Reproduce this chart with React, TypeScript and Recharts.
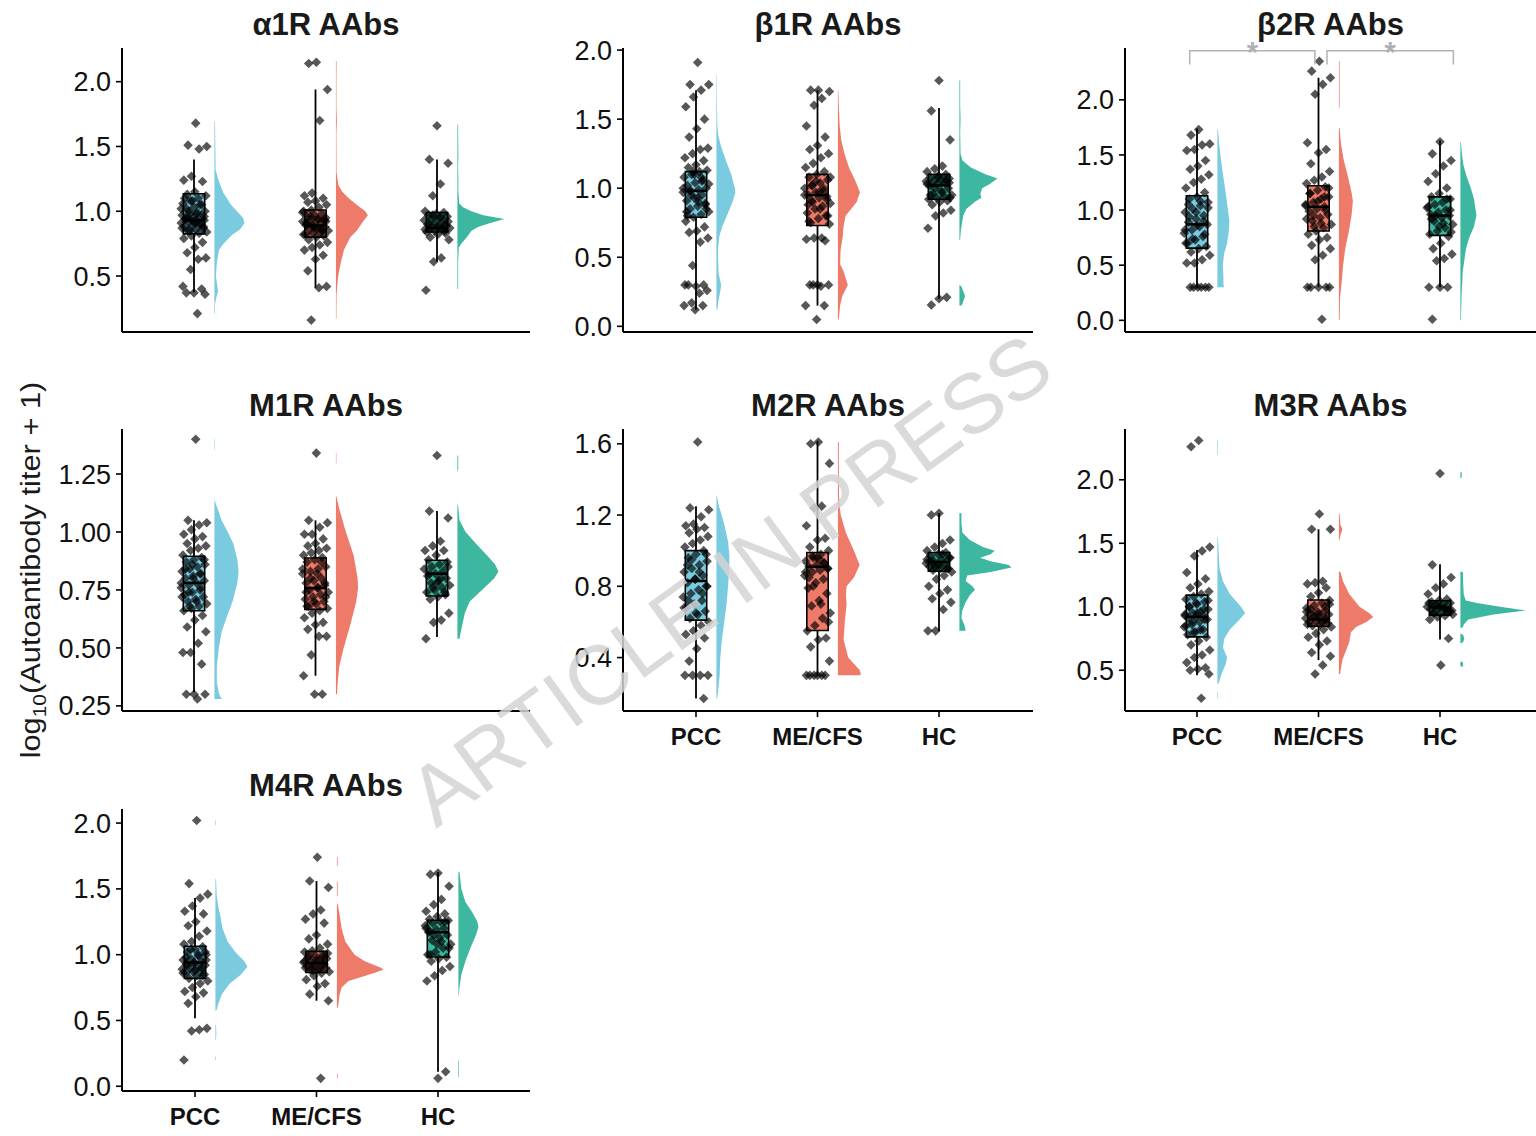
import React from 'react';
import { ComposedChart, XAxis, YAxis, Scatter } from 'recharts';

const FONT = 'Liberation Sans, Arial, Helvetica, sans-serif';
const GROUPS = ['PCC', 'ME/CFS', 'HC'];
const COLORS = ['#7ACBE0', '#EE7A69', '#3EB7A0'];

// ---------- α1R ----------
const a1rPcc = [1.68, 1.51, 1.50, 1.48, 1.27, 1.24, 1.23, 1.15, 1.13, 1.12, 1.10, 1.08, 1.06, 1.05, 1.03, 1.02, 1.00, 0.99, 0.98, 0.97, 0.96, 0.95, 0.94, 0.93, 0.93, 0.92, 0.91, 0.90, 0.89, 0.88, 0.87, 0.86, 0.85, 0.84, 0.83, 0.81, 0.79, 0.76, 0.72, 0.68, 0.64, 0.63, 0.55, 0.42, 0.40, 0.37, 0.37, 0.36, 0.21, 0.85, 0.87, 0.90, 0.92, 0.94, 0.96, 0.98, 1.00, 1.02, 1.05, 1.08, 1.10, 0.88, 0.91, 0.95];
const a1rMe = [2.15, 2.14, 1.94, 1.70, 1.14, 1.12, 1.10, 1.08, 1.07, 1.05, 1.03, 1.01, 1.00, 0.98, 0.97, 0.96, 0.95, 0.94, 0.93, 0.92, 0.91, 0.90, 0.89, 0.88, 0.87, 0.86, 0.85, 0.84, 0.83, 0.82, 0.81, 0.80, 0.78, 0.76, 0.74, 0.72, 0.70, 0.66, 0.63, 0.54, 0.42, 0.41, 0.16, 0.82, 0.85, 0.87, 0.90, 0.92, 0.94, 0.96, 0.99, 0.86, 0.88, 0.91, 0.93];
const a1rHc = [1.66, 1.40, 1.37, 1.21, 1.12, 1.00, 0.99, 0.98, 0.97, 0.96, 0.95, 0.94, 0.93, 0.92, 0.91, 0.90, 0.89, 0.88, 0.87, 0.87, 0.86, 0.85, 0.84, 0.83, 0.82, 0.80, 0.78, 0.64, 0.61, 0.39, 0.85, 0.88, 0.90, 0.92, 0.95, 0.97, 0.86, 0.89];
const a1rBox = [[0.375, 0.825, 0.93, 1.135, 1.40], [0.41, 0.80, 0.89, 1.01, 1.94], [0.61, 0.84, 0.87, 0.99, 1.40]];
const a1rVioPcc = [[1.69, 0.02], [1.5, 0.03], [1.32, 0.04], [1.25, 0.12], [1.15, 0.28], [1.05, 0.55], [1.0, 0.75], [0.95, 0.95], [0.91, 1.0], [0.86, 0.85], [0.82, 0.6], [0.75, 0.3], [0.7, 0.15], [0.6, 0.08], [0.5, 0.05], [0.42, 0.1], [0.38, 0.12], [0.33, 0.06], [0.28, 0.02], [0.21, 0.02]];
const a1rVioMe = [[2.16, 0.02], [2.0, 0.015], [1.8, 0.015], [1.7, 0.03], [1.6, 0.015], [1.3, 0.02], [1.2, 0.08], [1.15, 0.2], [1.1, 0.4], [1.05, 0.65], [1.0, 0.92], [0.97, 1.0], [0.92, 0.85], [0.85, 0.65], [0.8, 0.45], [0.7, 0.25], [0.6, 0.15], [0.5, 0.07], [0.42, 0.04], [0.35, 0.02], [0.17, 0.015]];
const a1rVioHc = [[1.67, 0.015], [1.6, 0.015], [1.42, 0.02], [1.35, 0.015], [1.25, 0.02], [1.15, 0.02], [1.06, 0.04], [1.03, 0.12], [1.0, 0.3], [0.97, 0.55], [0.94, 1.0], [0.91, 0.7], [0.88, 0.45], [0.85, 0.3], [0.8, 0.2], [0.75, 0.08], [0.72, 0.03], [0.65, 0.02], [0.6, 0.015], [0.45, 0.015], [0.4, 0.015]];
const a1rPeak = [0.64, 0.68, 1.0];
const a1rDomain = [0.068, 2.26];
const a1rTicks = [0.5, 1.0, 1.5, 2.0];

// ---------- β1R ----------
const b1rPcc = [1.91, 1.75, 1.75, 1.71, 1.66, 1.59, 1.50, 1.43, 1.37, 1.29, 1.28, 1.25, 1.22, 1.20, 1.17, 1.15, 1.13, 1.12, 1.10, 1.08, 1.06, 1.04, 1.02, 1.00, 0.99, 0.98, 0.97, 0.95, 0.93, 0.91, 0.89, 0.87, 0.85, 0.83, 0.81, 0.79, 0.76, 0.72, 0.69, 0.68, 0.64, 0.61, 0.44, 0.30, 0.30, 0.29, 0.30, 0.26, 0.24, 0.17, 0.15, 0.15, 0.12, 0.80, 0.85, 0.90, 0.95, 1.00, 1.05, 1.10, 0.83, 0.88, 0.93, 0.98, 1.03, 1.08, 1.12];
const b1rMe = [1.71, 1.71, 1.70, 1.65, 1.60, 1.45, 1.37, 1.31, 1.28, 1.25, 1.22, 1.18, 1.15, 1.12, 1.10, 1.08, 1.06, 1.04, 1.02, 1.00, 0.98, 0.97, 0.95, 0.94, 0.93, 0.91, 0.89, 0.87, 0.85, 0.82, 0.80, 0.78, 0.75, 0.74, 0.64, 0.64, 0.63, 0.62, 0.30, 0.30, 0.30, 0.29, 0.30, 0.15, 0.15, 0.05, 0.76, 0.80, 0.85, 0.90, 0.95, 1.00, 1.05, 0.88, 0.92, 0.97, 1.02, 1.08];
const b1rHc = [1.78, 1.56, 1.35, 1.16, 1.14, 1.12, 1.10, 1.09, 1.08, 1.07, 1.06, 1.05, 1.05, 1.04, 1.03, 1.02, 1.00, 0.98, 0.96, 0.95, 0.94, 0.93, 0.92, 0.91, 0.90, 0.88, 0.84, 0.82, 0.80, 0.71, 0.21, 0.20, 0.155, 0.93, 0.97, 1.00, 1.03, 1.06, 1.08, 0.95, 1.04];
const b1rBox = [[0.12, 0.79, 0.98, 1.12, 1.71], [0.15, 0.73, 0.95, 1.10, 1.71], [0.20, 0.92, 1.02, 1.10, 1.58]];
const b1rVioPcc = [[1.82, 0.02], [1.6, 0.03], [1.45, 0.05], [1.38, 0.1], [1.3, 0.25], [1.2, 0.5], [1.1, 0.78], [1.0, 0.97], [0.97, 1.0], [0.9, 0.85], [0.8, 0.55], [0.72, 0.3], [0.65, 0.15], [0.55, 0.08], [0.45, 0.1], [0.38, 0.12], [0.3, 0.25], [0.25, 0.2], [0.18, 0.1], [0.12, 0.05]];
const b1rVioMe = [[1.71, 0.02], [1.6, 0.04], [1.45, 0.08], [1.35, 0.15], [1.25, 0.3], [1.15, 0.5], [1.05, 0.8], [0.97, 1.0], [0.9, 0.85], [0.85, 0.6], [0.8, 0.35], [0.72, 0.25], [0.65, 0.22], [0.55, 0.12], [0.45, 0.1], [0.4, 0.25], [0.3, 0.45], [0.22, 0.2], [0.15, 0.1], [0.05, 0.04]];
const b1rVioHc = [[1.78, 0.02], [1.6, 0.02], [1.5, 0.03], [1.4, 0.02], [1.25, 0.03], [1.2, 0.08], [1.15, 0.3], [1.1, 0.7], [1.07, 1.0], [1.03, 0.8], [1.0, 0.6], [0.96, 0.55], [0.93, 0.58], [0.9, 0.4], [0.85, 0.18], [0.8, 0.1], [0.7, 0.04], [0.63, 0.02], [0.62, 0], [0.3, 0], [0.29, 0.05], [0.22, 0.15], [0.18, 0.1], [0.15, 0.06]];
const b1rPeak = [0.5, 0.58, 1.0];
const b1rDomain = [-0.041, 2.015];
const b1rTicks = [0.0, 0.5, 1.0, 1.5, 2.0];

// ---------- β2R ----------
const b2rPcc = [1.73, 1.68, 1.60, 1.59, 1.55, 1.54, 1.45, 1.40, 1.37, 1.32, 1.28, 1.25, 1.20, 1.16, 1.12, 1.10, 1.07, 1.04, 1.01, 0.98, 0.95, 0.92, 0.89, 0.87, 0.85, 0.82, 0.79, 0.76, 0.73, 0.70, 0.67, 0.65, 0.62, 0.59, 0.55, 0.52, 0.52, 0.30, 0.30, 0.30, 0.30, 0.30, 0.30, 0.70, 0.78, 0.86, 0.94, 1.02, 1.08, 0.74, 0.82, 0.90, 0.98, 1.05];
const b2rMe = [2.35, 2.26, 2.20, 2.14, 2.05, 1.61, 1.55, 1.52, 1.42, 1.35, 1.30, 1.27, 1.24, 1.21, 1.18, 1.15, 1.12, 1.10, 1.07, 1.05, 1.03, 1.01, 0.99, 0.96, 0.93, 0.90, 0.87, 0.84, 0.81, 0.78, 0.75, 0.73, 0.68, 0.65, 0.59, 0.55, 0.30, 0.30, 0.30, 0.30, 0.30, 0.01, 0.85, 0.92, 1.00, 1.08, 1.15, 1.20, 0.88, 0.95, 1.04, 1.12];
const b2rHc = [1.62, 1.51, 1.45, 1.40, 1.33, 1.26, 1.20, 1.15, 1.12, 1.10, 1.07, 1.05, 1.02, 1.00, 0.98, 0.96, 0.95, 0.93, 0.90, 0.87, 0.84, 0.81, 0.78, 0.76, 0.70, 0.65, 0.60, 0.56, 0.54, 0.30, 0.30, 0.30, 0.01, 0.80, 0.88, 0.95, 1.03, 1.10, 0.85, 0.92, 1.00];
const b2rBox = [[0.30, 0.655, 0.87, 1.13, 1.74], [0.30, 0.81, 1.03, 1.22, 2.20], [0.30, 0.77, 0.95, 1.12, 1.63]];
const b2rVioPcc = [[1.73, 0.05], [1.6, 0.15], [1.45, 0.3], [1.3, 0.5], [1.15, 0.7], [1.0, 0.88], [0.9, 1.0], [0.8, 0.95], [0.7, 0.8], [0.6, 0.55], [0.5, 0.45], [0.4, 0.5], [0.33, 0.5], [0.3, 0.55]];
const b2rVioMe = [[2.35, 0.05], [2.0, 0.05], [1.93, 0.04], [1.92, 0], [1.75, 0], [1.74, 0.05], [1.6, 0.15], [1.45, 0.35], [1.3, 0.65], [1.15, 0.92], [1.08, 1.0], [0.95, 0.9], [0.8, 0.7], [0.65, 0.45], [0.5, 0.3], [0.35, 0.2], [0.2, 0.08], [0.0, 0.05]];
const b2rVioHc = [[1.62, 0.03], [1.5, 0.1], [1.4, 0.2], [1.3, 0.4], [1.2, 0.65], [1.1, 0.85], [0.95, 1.0], [0.85, 0.85], [0.75, 0.55], [0.65, 0.35], [0.55, 0.25], [0.45, 0.15], [0.35, 0.12], [0.25, 0.08], [0.1, 0.05], [0.0, 0.04]];
const b2rPeak = [0.75, 0.875, 1.0];
const b2rDomain = [-0.106, 2.47];
const b2rTicks = [0.0, 0.5, 1.0, 1.5, 2.0];
const b2rBracketSpans = [[0.94, 1.97], [2.07, 3.11]];
const b2rBracketY = [2.32, 2.445];
const b2rBracketLabels = ['*', '*'];

// ---------- M1R ----------
const m1rPcc = [1.40, 1.05, 1.04, 1.03, 1.01, 0.99, 0.98, 0.97, 0.95, 0.94, 0.93, 0.92, 0.90, 0.89, 0.88, 0.87, 0.86, 0.85, 0.84, 0.83, 0.82, 0.81, 0.80, 0.79, 0.78, 0.77, 0.76, 0.75, 0.74, 0.73, 0.72, 0.71, 0.70, 0.69, 0.68, 0.67, 0.66, 0.64, 0.62, 0.59, 0.57, 0.52, 0.48, 0.48, 0.43, 0.30, 0.30, 0.30, 0.28, 0.68, 0.72, 0.76, 0.80, 0.84, 0.88, 0.70, 0.74, 0.78, 0.82, 0.86];
const m1rMe = [1.34, 1.05, 1.04, 1.02, 0.99, 0.99, 0.97, 0.95, 0.94, 0.93, 0.92, 0.91, 0.90, 0.89, 0.88, 0.87, 0.85, 0.84, 0.83, 0.82, 0.80, 0.79, 0.78, 0.77, 0.76, 0.75, 0.74, 0.73, 0.72, 0.71, 0.70, 0.69, 0.68, 0.67, 0.66, 0.65, 0.63, 0.61, 0.60, 0.58, 0.55, 0.55, 0.47, 0.38, 0.30, 0.30, 0.68, 0.72, 0.76, 0.80, 0.84, 0.87, 0.70, 0.74, 0.78, 0.82];
const m1rHc = [1.33, 1.09, 1.06, 0.96, 0.94, 0.92, 0.92, 0.90, 0.88, 0.87, 0.86, 0.85, 0.84, 0.83, 0.82, 0.81, 0.80, 0.79, 0.78, 0.77, 0.76, 0.75, 0.74, 0.73, 0.72, 0.71, 0.65, 0.62, 0.61, 0.54, 0.74, 0.78, 0.82, 0.85, 0.80, 0.76];
const m1rBox = [[0.31, 0.66, 0.78, 0.895, 1.05], [0.38, 0.666, 0.758, 0.888, 1.05], [0.547, 0.724, 0.82, 0.878, 1.09]];
const m1rVioPcc = [[1.40, 0.02], [1.36, 0.02], [1.35, 0], [1.14, 0], [1.13, 0.03], [1.05, 0.3], [1.0, 0.55], [0.95, 0.78], [0.88, 0.95], [0.83, 1.0], [0.78, 0.95], [0.7, 0.75], [0.63, 0.5], [0.57, 0.3], [0.5, 0.18], [0.42, 0.1], [0.35, 0.1], [0.3, 0.2], [0.28, 0.3]];
const m1rVioMe = [[1.34, 0.02], [1.3, 0.02], [1.29, 0], [1.16, 0], [1.15, 0.03], [1.1, 0.15], [1.0, 0.45], [0.9, 0.8], [0.8, 0.98], [0.76, 1.0], [0.7, 0.92], [0.6, 0.65], [0.5, 0.35], [0.42, 0.15], [0.35, 0.08], [0.3, 0.05]];
const m1rVioHc = [[1.33, 0.02], [1.27, 0.02], [1.26, 0], [1.12, 0], [1.11, 0.02], [1.05, 0.05], [1.0, 0.2], [0.95, 0.45], [0.9, 0.72], [0.86, 0.92], [0.83, 1.0], [0.8, 0.9], [0.75, 0.6], [0.7, 0.3], [0.65, 0.18], [0.6, 0.12], [0.55, 0.06], [0.54, 0.05]];
const m1rPeak = [0.59, 0.54, 1.0];
const m1rDomain = [0.228, 1.444];
const m1rTicks = [0.25, 0.5, 0.75, 1.0, 1.25];

// ---------- M2R ----------
const m2rPcc = [1.61, 1.24, 1.23, 1.19, 1.15, 1.14, 1.13, 1.12, 1.10, 1.08, 1.06, 1.04, 1.02, 1.00, 0.98, 0.96, 0.94, 0.92, 0.90, 0.88, 0.86, 0.84, 0.82, 0.80, 0.78, 0.76, 0.74, 0.72, 0.70, 0.68, 0.66, 0.64, 0.62, 0.60, 0.58, 0.55, 0.53, 0.51, 0.45, 0.38, 0.30, 0.30, 0.30, 0.30, 0.17, 0.65, 0.72, 0.80, 0.88, 0.95, 0.68, 0.76, 0.84, 0.92, 0.98];
const m2rMe = [1.61, 1.60, 1.49, 1.25, 1.24, 1.14, 1.07, 1.06, 1.02, 1.00, 0.98, 0.96, 0.94, 0.93, 0.92, 0.91, 0.90, 0.89, 0.88, 0.86, 0.84, 0.82, 0.79, 0.76, 0.72, 0.69, 0.65, 0.62, 0.58, 0.55, 0.51, 0.50, 0.46, 0.38, 0.30, 0.30, 0.30, 0.30, 0.30, 0.30, 0.60, 0.70, 0.80, 0.88, 0.93, 0.96, 0.85, 0.90, 0.95, 0.97];
const m2rHc = [1.21, 1.20, 1.06, 1.04, 1.02, 1.00, 0.99, 0.98, 0.97, 0.96, 0.95, 0.94, 0.93, 0.93, 0.92, 0.91, 0.90, 0.90, 0.89, 0.88, 0.86, 0.84, 0.80, 0.78, 0.76, 0.73, 0.71, 0.67, 0.55, 0.55, 0.90, 0.92, 0.94, 0.96, 0.98, 0.91, 0.95];
const m2rBox = [[0.17, 0.61, 0.83, 1.0, 1.25], [0.30, 0.552, 0.91, 0.99, 1.617], [0.547, 0.885, 0.936, 0.99, 1.21]];
const m2rVioPcc = [[1.31, 0.03], [1.25, 0.2], [1.15, 0.6], [1.05, 0.9], [0.97, 1.0], [0.9, 0.98], [0.8, 0.9], [0.7, 0.78], [0.6, 0.6], [0.5, 0.42], [0.4, 0.3], [0.3, 0.25], [0.2, 0.12], [0.17, 0.05]];
const m2rVioMe = [[1.61, 0.04], [1.45, 0.04], [1.3, 0.05], [1.2, 0.12], [1.1, 0.35], [1.0, 0.7], [0.92, 0.95], [0.85, 0.7], [0.8, 0.38], [0.75, 0.35], [0.7, 0.38], [0.6, 0.3], [0.5, 0.25], [0.4, 0.45], [0.33, 0.95], [0.31, 1.0], [0.30, 0.98]];
const m2rVioHc = [[1.21, 0.04], [1.15, 0.04], [1.1, 0.06], [1.06, 0.2], [1.02, 0.45], [1.0, 0.68], [0.98, 0.6], [0.96, 0.4], [0.94, 0.6], [0.92, 0.95], [0.905, 1.0], [0.88, 0.6], [0.86, 0.15], [0.83, 0.12], [0.8, 0.25], [0.78, 0.3], [0.75, 0.2], [0.71, 0.12], [0.66, 0.05], [0.62, 0.04], [0.58, 0.1], [0.55, 0.12]];
const m2rPeak = [0.25, 0.44, 1.0];
const m2rDomain = [0.1, 1.683];
const m2rTicks = [0.4, 0.8, 1.2, 1.6];

// ---------- M3R ----------
const m3rPcc = [2.31, 2.26, 1.47, 1.44, 1.40, 1.27, 1.22, 1.18, 1.15, 1.12, 1.10, 1.08, 1.06, 1.04, 1.02, 1.00, 0.98, 0.96, 0.95, 0.94, 0.93, 0.92, 0.91, 0.90, 0.88, 0.86, 0.84, 0.82, 0.80, 0.78, 0.76, 0.73, 0.70, 0.66, 0.62, 0.60, 0.56, 0.52, 0.51, 0.50, 0.47, 0.28, 0.80, 0.85, 0.90, 0.95, 1.00, 1.05, 0.82, 0.88, 0.93, 0.98, 1.03];
const m3rMe = [1.73, 1.61, 1.61, 1.20, 1.19, 1.18, 1.15, 1.11, 1.08, 1.05, 1.03, 1.01, 0.99, 0.97, 0.96, 0.95, 0.94, 0.93, 0.92, 0.91, 0.90, 0.89, 0.88, 0.87, 0.86, 0.85, 0.84, 0.82, 0.79, 0.76, 0.73, 0.70, 0.64, 0.61, 0.54, 0.47, 0.86, 0.90, 0.94, 0.98, 1.02, 0.88, 0.92, 0.96, 1.00];
const m3rHc = [2.05, 1.33, 1.23, 1.18, 1.15, 1.10, 1.06, 1.05, 1.04, 1.03, 1.02, 1.01, 1.00, 0.99, 0.99, 0.98, 0.97, 0.96, 0.95, 0.94, 0.93, 0.92, 0.90, 0.75, 0.54, 0.95, 0.97, 0.99, 1.01, 1.03, 0.96, 1.00];
const m3rBox = [[0.46, 0.763, 0.92, 1.092, 1.447], [0.58, 0.847, 0.90, 1.053, 1.61], [0.742, 0.934, 0.995, 1.047, 1.334]];
const m3rVioPcc = [[2.31, 0.02], [2.2, 0.02], [2.19, 0], [1.55, 0], [1.54, 0.02], [1.4, 0.05], [1.3, 0.08], [1.2, 0.2], [1.1, 0.45], [1.0, 0.85], [0.95, 1.0], [0.9, 0.8], [0.82, 0.45], [0.75, 0.25], [0.68, 0.2], [0.6, 0.35], [0.55, 0.3], [0.47, 0.15], [0.4, 0.05], [0.39, 0], [0.33, 0], [0.32, 0.02], [0.28, 0.02]];
const m3rVioMe = [[1.73, 0.02], [1.65, 0.04], [1.61, 0.1], [1.56, 0.04], [1.53, 0.02], [1.52, 0], [1.28, 0], [1.27, 0.05], [1.2, 0.12], [1.1, 0.3], [1.0, 0.6], [0.95, 0.88], [0.92, 1.0], [0.88, 0.8], [0.84, 0.5], [0.8, 0.35], [0.72, 0.3], [0.65, 0.2], [0.58, 0.1], [0.5, 0.05], [0.47, 0.04]];
const m3rVioHc = [[2.06, 0.02], [2.02, 0.02], [2.01, 0], [1.28, 0], [1.27, 0.04], [1.2, 0.04], [1.1, 0.05], [1.05, 0.08], [1.03, 0.25], [1.0, 0.6], [0.97, 1.0], [0.94, 0.5], [0.9, 0.12], [0.86, 0.05], [0.84, 0.04], [0.83, 0], [0.79, 0], [0.78, 0.04], [0.75, 0.06], [0.72, 0.04], [0.71, 0], [0.57, 0], [0.56, 0.04], [0.53, 0.04]];
const m3rPeak = [0.42, 0.52, 1.0];
const m3rDomain = [0.179, 2.4];
const m3rTicks = [0.5, 1.0, 1.5, 2.0];

// ---------- M4R ----------
const m4rPcc = [2.02, 1.54, 1.46, 1.43, 1.37, 1.33, 1.31, 1.25, 1.22, 1.18, 1.14, 1.10, 1.08, 1.06, 1.04, 1.02, 1.00, 0.99, 0.97, 0.96, 0.95, 0.94, 0.93, 0.92, 0.91, 0.90, 0.89, 0.88, 0.87, 0.86, 0.85, 0.84, 0.82, 0.80, 0.78, 0.75, 0.72, 0.71, 0.68, 0.63, 0.44, 0.43, 0.42, 0.20, 0.84, 0.88, 0.92, 0.96, 1.00, 1.04, 0.86, 0.90, 0.94, 0.98, 1.02];
const m4rMe = [1.74, 1.56, 1.51, 1.34, 1.31, 1.27, 1.24, 1.15, 1.12, 1.08, 1.05, 1.03, 1.02, 1.00, 0.99, 0.98, 0.97, 0.96, 0.95, 0.94, 0.93, 0.92, 0.91, 0.90, 0.89, 0.88, 0.87, 0.86, 0.84, 0.81, 0.78, 0.76, 0.70, 0.65, 0.06, 0.88, 0.90, 0.93, 0.96, 0.99, 1.01, 0.89, 0.92, 0.95, 0.98];
const m4rHc = [1.62, 1.61, 1.52, 1.42, 1.38, 1.33, 1.31, 1.29, 1.27, 1.26, 1.25, 1.24, 1.22, 1.20, 1.19, 1.17, 1.15, 1.13, 1.11, 1.08, 1.05, 1.02, 1.00, 0.98, 0.97, 0.95, 0.91, 0.88, 0.84, 0.80, 0.11, 0.06, 1.00, 1.05, 1.10, 1.15, 1.20, 1.25, 1.08, 1.18];
const m4rBox = [[0.517, 0.82, 0.94, 1.064, 1.43], [0.65, 0.865, 0.936, 1.025, 1.56], [0.11, 0.982, 1.17, 1.262, 1.628]];
const m4rVioPcc = [[2.02, 0.02], [1.99, 0.02], [1.98, 0], [1.58, 0], [1.57, 0.02], [1.45, 0.04], [1.35, 0.1], [1.3, 0.15], [1.2, 0.22], [1.1, 0.38], [1.02, 0.62], [0.95, 0.9], [0.91, 1.0], [0.85, 0.8], [0.78, 0.45], [0.7, 0.2], [0.62, 0.08], [0.58, 0.04], [0.57, 0], [0.47, 0], [0.46, 0.02], [0.4, 0.03], [0.36, 0.02], [0.35, 0], [0.23, 0], [0.22, 0.02], [0.20, 0.02]];
const m4rVioMe = [[1.74, 0.015], [1.68, 0.015], [1.67, 0], [1.56, 0], [1.55, 0.015], [1.45, 0.015], [1.44, 0], [1.39, 0], [1.38, 0.02], [1.3, 0.06], [1.2, 0.1], [1.1, 0.18], [1.0, 0.38], [0.95, 0.6], [0.9, 0.95], [0.885, 1.0], [0.86, 0.8], [0.8, 0.25], [0.75, 0.1], [0.7, 0.06], [0.62, 0.03], [0.6, 0.02], [0.59, 0], [0.1, 0], [0.09, 0.015], [0.06, 0.015]];
const m4rVioHc = [[1.63, 0.05], [1.5, 0.15], [1.4, 0.35], [1.32, 0.7], [1.25, 0.95], [1.21, 1.0], [1.15, 0.88], [1.05, 0.6], [0.95, 0.35], [0.85, 0.15], [0.75, 0.05], [0.70, 0.03], [0.69, 0], [0.2, 0], [0.19, 0.03], [0.07, 0.03]];
const m4rPeak = [0.69, 1.0, 0.43];
const m4rDomain = [-0.036, 2.107];
const m4rTicks = [0.0, 0.5, 1.0, 1.5, 2.0];

const PANELS = [
  { title: 'α1R AAbs', pts: [a1rPcc, a1rMe, a1rHc], box: a1rBox, vio: [a1rVioPcc, a1rVioMe, a1rVioHc], peak: a1rPeak, domain: a1rDomain, ticks: a1rTicks, dec: 1 },
  { title: 'β1R AAbs', pts: [b1rPcc, b1rMe, b1rHc], box: b1rBox, vio: [b1rVioPcc, b1rVioMe, b1rVioHc], peak: b1rPeak, domain: b1rDomain, ticks: b1rTicks, dec: 1 },
  { title: 'β2R AAbs', pts: [b2rPcc, b2rMe, b2rHc], box: b2rBox, vio: [b2rVioPcc, b2rVioMe, b2rVioHc], peak: b2rPeak, domain: b2rDomain, ticks: b2rTicks, dec: 1, brackets: true },
  { title: 'M1R AAbs', pts: [m1rPcc, m1rMe, m1rHc], box: m1rBox, vio: [m1rVioPcc, m1rVioMe, m1rVioHc], peak: m1rPeak, domain: m1rDomain, ticks: m1rTicks, dec: 2 },
  { title: 'M2R AAbs', pts: [m2rPcc, m2rMe, m2rHc], box: m2rBox, vio: [m2rVioPcc, m2rVioMe, m2rVioHc], peak: m2rPeak, domain: m2rDomain, ticks: m2rTicks, dec: 1 },
  { title: 'M3R AAbs', pts: [m3rPcc, m3rMe, m3rHc], box: m3rBox, vio: [m3rVioPcc, m3rVioMe, m3rVioHc], peak: m3rPeak, domain: m3rDomain, ticks: m3rTicks, dec: 1 },
  { title: 'M4R AAbs', pts: [m4rPcc, m4rMe, m4rHc], box: m4rBox, vio: [m4rVioPcc, m4rVioMe, m4rVioHc], peak: m4rPeak, domain: m4rDomain, ticks: m4rTicks, dec: 1 },
];

// ---------- layout (pixels) ----------
const UNIT_PX = 121.5;
const Y_AXIS_W = 120;
const LAYOUT = [
  { left: 122, top: 48, width: 408, height: 284, c1: 194, xLabels: false, vioPx: 47 },
  { left: 623, top: 48, width: 410, height: 284, c1: 696, xLabels: false, vioPx: 38 },
  { left: 1125, top: 48, width: 411, height: 284, c1: 1197, xLabels: false, vioPx: 16 },
  { left: 122, top: 429, width: 408, height: 282, c1: 194, xLabels: false, vioPx: 41 },
  { left: 623, top: 429, width: 410, height: 282, c1: 696, xLabels: true, vioPx: 52 },
  { left: 1125, top: 429, width: 411, height: 282, c1: 1197, xLabels: true, vioPx: 66 },
  { left: 122, top: 809, width: 408, height: 282, c1: 195, xLabels: true, vioPx: 46.5 },
];
const BOX_HW = 0.088;
const VIO_OFF = 0.168;
const JIT_W = 0.21;

const jit = (i: number) => ((((i * 53 + 17) % 31) / 30) - 0.5) * JIT_W;

const NoShape = () => <g />;

const Diamond = (p: any) => {
  const { cx, cy } = p;
  if (cx == null || cy == null) return <g />;
  const r = 4.8;
  return <path d={`M${cx},${cy - r}L${cx + r},${cy}L${cx},${cy + r}L${cx - r},${cy}Z`} fill="#000" fillOpacity={0.66} />;
};

const pathOf = (pts: any[], close: boolean) =>
  (pts || []).map((p: any, i: number) => `${i ? 'L' : 'M'}${p.x},${p.y}`).join('') + (close ? 'Z' : '');

const filled = (fill: string, stroke: string = 'none', sw: number = 0) => (props: any) =>
  <path d={pathOf(props.points, true)} fill={fill} stroke={stroke} strokeWidth={sw} />;

const stroked = (stroke: string, sw: number) => (props: any) =>
  <path d={pathOf(props.points, false)} fill="none" stroke={stroke} strokeWidth={sw} />;

function Panel({ p, L }: { p: any; L: any }) {
  const xMin = 1 - (L.c1 - L.left) / UNIT_PX;
  const xMax = xMin + L.width / UNIT_PX;
  const maxW = L.vioPx / UNIT_PX;
  const xh = L.xLabels ? 44 : 16;
  const clip = !p.brackets;
  const items: any[] = [];

  for (let g = 0; g < 3; g++) {
    const gx = g + 1;
    const color = COLORS[g];
    const [lo, q1, med, q3, hi] = p.box[g];
    const prof = p.vio[g];
    const base = gx + VIO_OFF;
    const vData = prof.map(([y, d]: number[]) => ({ x: base + d * p.peak[g] * maxW, y }));
    vData.push({ x: base, y: prof[prof.length - 1][0] }, { x: base, y: prof[0][0] });
    items.push(<Scatter key={`v${g}`} data={vData} line={filled(color)} shape={NoShape} isAnimationActive={false} />);
    items.push(<Scatter key={`w${g}`} data={[{ x: gx, y: lo }, { x: gx, y: hi }]} line={stroked('#000', 1.8)} shape={NoShape} isAnimationActive={false} />);
    items.push(
      <Scatter key={`b${g}`}
        data={[{ x: gx - BOX_HW, y: q1 }, { x: gx + BOX_HW, y: q1 }, { x: gx + BOX_HW, y: q3 }, { x: gx - BOX_HW, y: q3 }]}
        line={filled(color, '#000', 1.6)} shape={NoShape} isAnimationActive={false} />
    );
    items.push(<Scatter key={`m${g}`} data={[{ x: gx - BOX_HW, y: med }, { x: gx + BOX_HW, y: med }]} line={stroked('#000', 2.6)} shape={NoShape} isAnimationActive={false} />);
  }
  for (let g = 0; g < 3; g++) {
    const gx = g + 1;
    const pts = p.pts[g].map((v: number, i: number) => ({ x: gx + jit(i + g * 7), y: v }));
    items.push(<Scatter key={`p${g}`} data={pts} shape={Diamond} isAnimationActive={false} />);
  }
  if (p.brackets) {
    b2rBracketSpans.forEach(([a, b], k) => {
      items.push(
        <Scatter key={`br${k}`}
          data={[{ x: a, y: b2rBracketY[0] }, { x: a, y: b2rBracketY[1] }, { x: b, y: b2rBracketY[1] }, { x: b, y: b2rBracketY[0] }]}
          line={stroked('#b3b3b3', 1.5)} shape={NoShape} isAnimationActive={false} />
      );
      items.push(
        <Scatter key={`st${k}`} data={[{ x: (a + b) / 2, y: b2rBracketY[1] }]} isAnimationActive={false}
          shape={(sp: any) => (
            <text x={sp.cx} y={sp.cy + 11} textAnchor="middle" fontSize={29} fontWeight={700} fontFamily={FONT} fill="#b0b0b0">{b2rBracketLabels[k]}</text>
          )} />
      );
    });
  }

  return (
    <div style={{ position: 'absolute', left: L.left - Y_AXIS_W, top: L.top - 20 }}>
      <ComposedChart width={Y_AXIS_W + L.width} height={20 + L.height + xh} margin={{ top: 20, right: 0, bottom: 0, left: 0 }}>
        <XAxis type="number" dataKey="x" domain={[xMin, xMax]} allowDataOverflow={clip} ticks={[1, 2, 3]} interval={0}
          tickFormatter={(v: number) => GROUPS[Math.round(v) - 1]}
          tick={L.xLabels ? { fill: '#111', fontSize: 24, fontWeight: 700, fontFamily: FONT } : false}
          tickLine={L.xLabels ? { stroke: '#000', strokeWidth: 1.6 } : false}
          tickSize={6} tickMargin={11} height={xh}
          axisLine={{ stroke: '#000', strokeWidth: 2 }} />
        <YAxis type="number" dataKey="y" domain={p.domain} allowDataOverflow={clip} ticks={p.ticks} interval={0}
          tickFormatter={(v: number) => v.toFixed(p.dec)} width={Y_AXIS_W} tickSize={6} tickMargin={5}
          tick={{ fill: '#111', fontSize: 27, fontFamily: FONT }}
          tickLine={{ stroke: '#000', strokeWidth: 1.6 }}
          axisLine={{ stroke: '#000', strokeWidth: 2 }} />
        {items}
      </ComposedChart>
    </div>
  );
}

export default function App() {
  return (
    <div style={{ position: 'absolute', left: 0, top: 0, width: 1536, height: 1136, background: '#fff', overflow: 'hidden', fontFamily: FONT }}>
      {PANELS.map((p, i) => <Panel key={i} p={p} L={LAYOUT[i]} />)}
      <svg width={1536} height={1136} style={{ position: 'absolute', left: 0, top: 0, pointerEvents: 'none' }}>
        {PANELS.map((p, i) => {
          const L = LAYOUT[i];
          return (
            <text key={i} x={L.left + L.width / 2} y={L.top - 13} textAnchor="middle" fontSize={31} fontWeight={700} fontFamily={FONT} fill="#1a1a1a">
              {p.title}
            </text>
          );
        })}
        <g transform="translate(40,570) rotate(-90) scale(1.1,1)">
          <text textAnchor="middle" fontSize={28} fontFamily={FONT} fill="#1a1a1a">
            log<tspan fontSize={19} dy={6}>10</tspan><tspan dy={-6}>(Autoantibody titer + 1)</tspan>
          </text>
        </g>
        <g transform="translate(747,603) rotate(-36)">
          <text textAnchor="middle" fontSize={84} fontFamily={FONT} fill="#d4d4d4" fillOpacity={0.85}>ARTICLE IN PRESS</text>
        </g>
      </svg>
    </div>
  );
}
